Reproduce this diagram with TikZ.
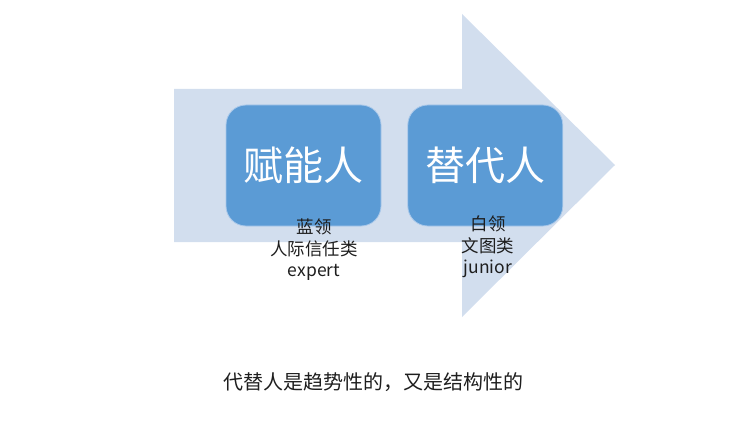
\documentclass[tikz,border=0pt]{standalone}
\usepackage{fontspec}
\setmainfont{Noto Sans CJK SC}
\usetikzlibrary{positioning}
\definecolor{arrowfill}{HTML}{D2DEEE}
\definecolor{boxfill}{HTML}{5B9BD5}
\definecolor{boxedge}{HTML}{A9C8EA}
\definecolor{labeltext}{HTML}{1E1E1E}

\begin{document}
\begin{tikzpicture}[x=1pt, y=-1pt]
\tikzstyle{stage} = [rectangle, rounded corners=20pt, minimum width=155pt, minimum height=121pt, text centered, draw=boxedge, line width=0.8pt, fill=boxfill, text=white, font=\fontsize{40}{40}\selectfont]
\tikzstyle{note} = [align=center, text=labeltext, inner sep=0pt, font=\fontsize{17.5}{21.5}\selectfont]

\useasboundingbox (0,0) rectangle (745,444);

% Big arrow
\fill[arrowfill] (174,89) -- (462,89) -- (462,14) -- (615,165) -- (462,317) -- (462,242) -- (174,242) -- cycle;

% Stages
\node (enable) [stage] at (303.5,165.5) {赋能人};
\node (replace) [stage, right=26pt of enable] {替代人};

% Notes
\node (enablenote) [note] at (314,250) {蓝领\\人际信任类\\expert};
\node (replacenote) [note] at (488,247) {白领\\文图类\\junior};

% Caption
\node (caption) [text=labeltext, font=\fontsize{20}{20}\selectfont] at (373,382) {代替人是趋势性的，又是结构性的};
\end{tikzpicture}
\end{document}
